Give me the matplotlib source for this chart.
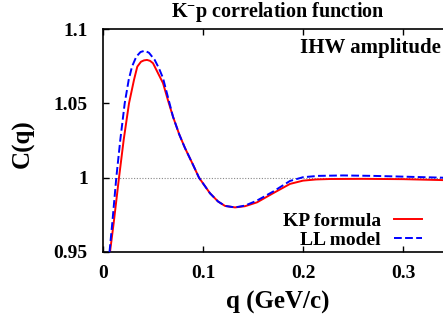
import numpy as np
import matplotlib
matplotlib.use("Agg")
from matplotlib import pyplot as plt

# K-p correlation function
q_kp = [0.007, 0.0107, 0.016, 0.0207, 0.026, 0.031, 0.0343, 0.038, 0.041, 0.044,
        0.047, 0.050, 0.055, 0.060, 0.065, 0.070, 0.0763, 0.082, 0.090, 0.096,
        0.107, 0.115, 0.122, 0.132, 0.142, 0.154, 0.170, 0.187, 0.200, 0.213,
        0.227, 0.260, 0.300, 0.350]
c_kp = [0.95, 0.9696, 1.0, 1.0255, 1.05, 1.0658, 1.0747, 1.0780, 1.0789, 1.0792,
        1.0786, 1.0770, 1.0703, 1.0636, 1.052, 1.041, 1.029, 1.0199, 1.0087, 1.0,
        0.9895, 0.984, 0.981, 0.980, 0.9808, 0.9834, 0.9895, 0.9958, 0.9980, 0.9988,
        0.9991, 0.9992, 0.9990, 0.9982]

q_ll = [0.0065, 0.0093, 0.0133, 0.0173, 0.0217, 0.0257, 0.029, 0.0333, 0.0375, 0.0417,
        0.046, 0.0517, 0.056, 0.060, 0.065, 0.070, 0.0763, 0.082, 0.090, 0.096,
        0.107, 0.115, 0.122, 0.132, 0.142, 0.154, 0.170, 0.187, 0.200, 0.215,
        0.240, 0.270, 0.300, 0.350]
c_ll = [0.95, 0.9696, 1.0, 1.0255, 1.05, 1.0658, 1.0747, 1.0814, 1.0845, 1.0854,
        1.0840, 1.0792, 1.0735, 1.067, 1.054, 1.041, 1.029, 1.0199, 1.0087, 1.0,
        0.9895, 0.984, 0.981, 0.980, 0.9812, 0.9846, 0.9906, 0.9978, 1.0003, 1.0012,
        1.0015, 1.0012, 1.0007, 0.9998]

x_ticks = [0, 0.1, 0.2, 0.3]
x_labels = ["0", "0.1", "0.2", "0.3"]
y_ticks = [0.95, 1.0, 1.05, 1.1]
y_labels = ["0.95", "1", "1.05", "1.1"]

plt.rcParams['font.family'] = ['Liberation Serif', 'DejaVu Serif']
plt.rcParams['font.weight'] = 'bold'
plt.rcParams['mathtext.fontset'] = 'custom'
plt.rcParams['mathtext.rm'] = 'Liberation Serif:bold'
plt.rcParams['mathtext.default'] = 'rm'

fig = plt.figure(figsize=(4.43, 3.23), dpi=100)
ax = fig.add_axes([103 / 443, 1 - 252 / 323, 350 / 443, 223 / 323])

ax.axhline(1.0, color='#888888', lw=0.8, ls=(0, (1, 1.5)), zorder=1)
ax.plot(q_kp, c_kp, color='#ff0000', lw=1.4, label='KP formula', zorder=2)
ax.plot(q_ll, c_ll, color='#0000ff', lw=1.4, dashes=(4, 1.7), label='LL model', zorder=3)

ax.set_xlim(0, 0.35)
ax.set_ylim(0.95, 1.1)
ax.set_xticks(x_ticks, x_labels)
ax.set_yticks(y_ticks, y_labels)
ax.tick_params(direction='in', length=4, width=1, labelsize=14, pad=9,
               top=True, right=False)
ax.tick_params(axis='y', pad=11)
ax.spines['right'].set_visible(False)
for s in ['left', 'bottom', 'top']:
    ax.spines[s].set_linewidth(1.2)

ax.set_xlabel('q (GeV/c)', fontsize=18, fontweight='bold', labelpad=7)
ax.set_ylabel('C(q)', fontsize=18, fontweight='bold')
ax.yaxis.set_label_coords(-0.194, 0.484)

ax.text(0.563, 0.894, 'IHW amplitude', transform=ax.transAxes, fontsize=15,
        fontweight='bold', ha='left', va='baseline', clip_on=False)

fig.text(0.627, 1 - 17 / 323, r'K$^{-}$p correlation function', fontsize=14.5,
         fontweight='bold', ha='center', va='baseline')

ax.legend(loc='lower right', bbox_to_anchor=(0.935, -0.02), frameon=False,
          markerfirst=False, fontsize=14, handlelength=1.45, handletextpad=0.7,
          labelspacing=0.05, borderaxespad=0)

fig.savefig('out.png', dpi=100)
